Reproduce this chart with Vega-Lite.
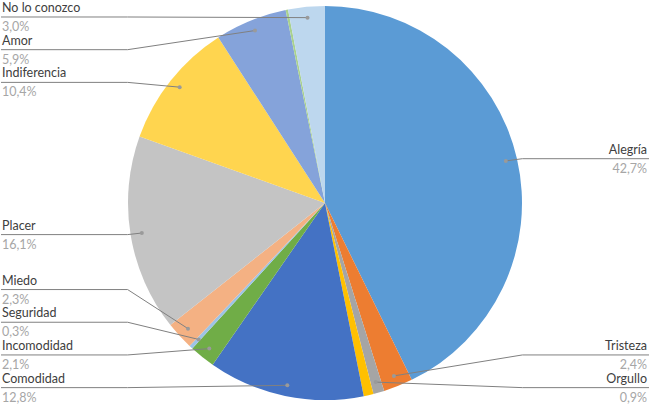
{
  "$schema": "https://vega.github.io/schema/vega-lite/v6.json",
  "width": 650,
  "height": 406,
  "autosize": {"type": "fit", "contains": "padding"},
  "padding": 0,
  "background": "white",
  "config": {"view": {"stroke": null}, "font": "Lato"},
  "data": {
    "values": [
      {"categoria": "Alegría", "valor": 42.7, "orden": 1},
      {"categoria": "Tristeza", "valor": 2.4, "orden": 2},
      {"categoria": "Orgullo", "valor": 0.9, "orden": 3},
      {"categoria": "(sin rótulo 1)", "valor": 0.8, "orden": 4},
      {"categoria": "Comodidad", "valor": 12.8, "orden": 5},
      {"categoria": "Incomodidad", "valor": 2.1, "orden": 6},
      {"categoria": "Seguridad", "valor": 0.3, "orden": 7},
      {"categoria": "Miedo", "valor": 2.3, "orden": 8},
      {"categoria": "Placer", "valor": 16.1, "orden": 9},
      {"categoria": "Indiferencia", "valor": 10.4, "orden": 10},
      {"categoria": "Amor", "valor": 5.9, "orden": 11},
      {"categoria": "(sin rótulo 2)", "valor": 0.2, "orden": 12},
      {"categoria": "No lo conozco", "valor": 3.0, "orden": 13}
    ]
  },
  "layer": [
    {
      "mark": {"type": "arc", "radius": 197},
      "encoding": {
        "theta": {"field": "valor", "type": "quantitative", "stack": true},
        "order": {"field": "orden", "type": "quantitative"},
        "color": {
          "field": "categoria",
          "type": "nominal",
          "legend": null,
          "scale": {
            "domain": ["Alegría", "Tristeza", "Orgullo", "(sin rótulo 1)", "Comodidad", "Incomodidad", "Seguridad", "Miedo", "Placer", "Indiferencia", "Amor", "(sin rótulo 2)", "No lo conozco"],
            "range": ["#5B9BD5", "#ED7D31", "#A5A5A5", "#FFC000", "#4472C4", "#70AD47", "#9DC3E6", "#F4B183", "#C4C4C4", "#FFD54F", "#85A3DA", "#A9D18E", "#BDD7EE"]
          }
        }
      }
    },
    {
      "transform": [
        {"joinaggregate": [{"op": "sum", "field": "valor", "as": "total"}]},
        {"window": [{"op": "sum", "field": "valor", "as": "acum"}], "sort": [{"field": "orden", "order": "ascending"}], "frame": [null, 0]},
        {"calculate": "2*PI*(datum.acum - datum.valor/2)/datum.total", "as": "ang"},
        {"filter": {"not": {"field": "categoria", "oneOf": ["(sin rótulo 1)", "(sin rótulo 2)"]}}},
        {"calculate": "0.95*sin(datum.ang)", "as": "px"},
        {"calculate": "0.95*cos(datum.ang)", "as": "py"},
        {"calculate": "sin(datum.ang) >= 0 ? 'der' : 'izq'", "as": "lado"},
        {"calculate": "cos(datum.ang) >= 0 ? 'sup' : 'inf'", "as": "mitad"},
        {"calculate": "datum.lado + datum.mitad", "as": "grupo"},
        {"calculate": "datum.mitad == 'sup' ? -cos(datum.ang) : cos(datum.ang)", "as": "t"},
        {"calculate": "max(datum.t, datum.mitad == 'sup' ? -0.949 : -0.942)", "as": "tc"},
        {"window": [{"op": "row_number", "as": "i"}], "groupby": ["grupo"], "sort": [{"field": "t", "order": "ascending"}]},
        {"calculate": "datum.tc - datum.i*0.1668", "as": "tt"},
        {"window": [{"op": "max", "field": "tt", "as": "m"}], "groupby": ["grupo"], "sort": [{"field": "t", "order": "ascending"}], "frame": [null, 0]},
        {"calculate": "(datum.mitad == 'sup' ? -1 : 1)*(datum.m + datum.i*0.1668)", "as": "ly"},
        {"calculate": "datum.lado == 'der' ? 1.6582 : -1.6582", "as": "xb"},
        {"calculate": "datum.lado == 'der' ? 1.0102 : -1.0102", "as": "xc"},
        {"calculate": "replace(format(datum.valor, '.1f'), '.', ',') + '%'", "as": "pct"}
      ],
      "layer": [
        {
          "mark": {"type": "rule", "color": "#808080", "strokeWidth": 1},
          "encoding": {
            "x": {"field": "xb", "type": "quantitative", "axis": null, "scale": {"domain": [-1.6582, 1.6582], "nice": false, "zero": false}},
            "x2": {"field": "xc"},
            "y": {"field": "ly", "type": "quantitative", "axis": null, "scale": {"domain": [-1.0357, 1.0357], "nice": false, "zero": false}}
          }
        },
        {
          "mark": {"type": "rule", "color": "#808080", "strokeWidth": 1},
          "encoding": {
            "x": {"field": "xc", "type": "quantitative"},
            "x2": {"field": "px"},
            "y": {"field": "ly", "type": "quantitative"},
            "y2": {"field": "py"}
          }
        },
        {
          "mark": {"type": "point", "filled": true, "size": 16, "color": "#9A9A9A", "opacity": 1},
          "encoding": {
            "x": {"field": "px", "type": "quantitative"},
            "y": {"field": "py", "type": "quantitative"}
          }
        },
        {
          "transform": [{"filter": "datum.lado == 'izq'"}],
          "mark": {"type": "text", "align": "left", "baseline": "alphabetic", "dx": 1, "dy": -5, "fontSize": 12.5, "color": "#404040"},
          "encoding": {
            "x": {"field": "xb", "type": "quantitative"},
            "y": {"field": "ly", "type": "quantitative"},
            "text": {"field": "categoria"}
          }
        },
        {
          "transform": [{"filter": "datum.lado == 'izq'"}],
          "mark": {"type": "text", "align": "left", "baseline": "alphabetic", "dx": 1, "dy": 14, "fontSize": 12.5, "color": "#A6A6A6"},
          "encoding": {
            "x": {"field": "xb", "type": "quantitative"},
            "y": {"field": "ly", "type": "quantitative"},
            "text": {"field": "pct"}
          }
        },
        {
          "transform": [{"filter": "datum.lado == 'der'"}],
          "mark": {"type": "text", "align": "right", "baseline": "alphabetic", "dx": -2, "dy": -5, "fontSize": 12.5, "color": "#404040"},
          "encoding": {
            "x": {"field": "xb", "type": "quantitative"},
            "y": {"field": "ly", "type": "quantitative"},
            "text": {"field": "categoria"}
          }
        },
        {
          "transform": [{"filter": "datum.lado == 'der'"}],
          "mark": {"type": "text", "align": "right", "baseline": "alphabetic", "dx": -2, "dy": 14, "fontSize": 12.5, "color": "#A6A6A6"},
          "encoding": {
            "x": {"field": "xb", "type": "quantitative"},
            "y": {"field": "ly", "type": "quantitative"},
            "text": {"field": "pct"}
          }
        }
      ]
    }
  ]
}
